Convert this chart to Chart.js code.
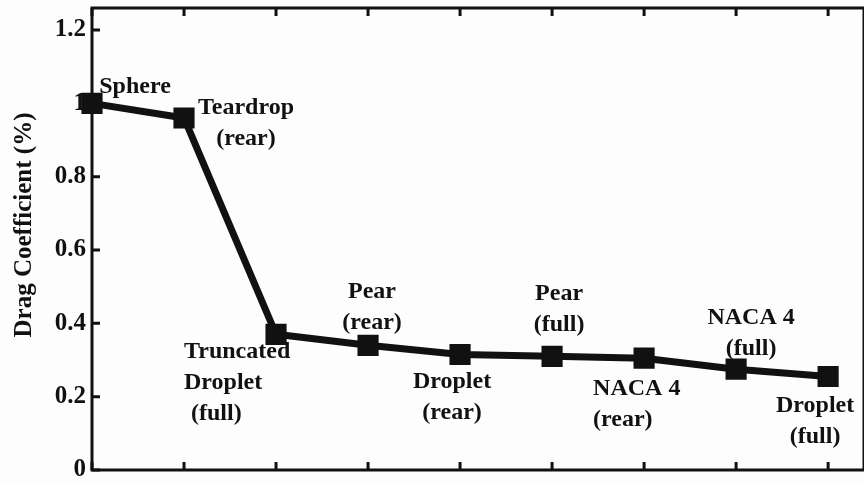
<!DOCTYPE html>
<html lang="en">
<head>
    <meta charset="UTF-8">
    <title>Drag Coefficient</title>
    <style>
        body { margin: 0; padding: 0; background: #fdfdfd; }
        .chart-container { position: relative; width: 864px; height: 484px; }
    </style>
    <script src="https://cdn.jsdelivr.net/npm/chart.js"></script>
</head>
<body>
    <div class="chart-container">
        <canvas id="dragChart"></canvas>
    </div>
    <script>
        // shapes, in plotted order
        const shapes = [
            ['Sphere'],
            ['Teardrop', '(rear)'],
            ['Truncated', 'Droplet', '(full)'],
            ['Pear', '(rear)'],
            ['Droplet', '(rear)'],
            ['Pear', '(full)'],
            ['NACA 4', '(rear)'],
            ['NACA 4', '(full)'],
            ['Droplet', '(full)']
        ];
        const dragCoef = [1.0, 0.96, 0.37, 0.34, 0.315, 0.31, 0.305, 0.275, 0.255];
        const yTicks = [0, 0.2, 0.4, 0.6, 0.8, 1, 1.2];
        const yTitle = 'Drag Coefficient (%)';

        // where each annotation sits relative to its marker (px)
        const labelOffsets = [
            { dx: 43, dy: -17 },
            { dx: 62, dy: -10 },
            { dx: -40, dy: 17, align: 'left', left: -92 },
            { dx: 4, dy: -54 },
            { dx: -8, dy: 27 },
            { dx: 7, dy: -63 },
            { dx: -4, dy: 31, align: 'left', left: -51 },
            { dx: 15, dy: -51 },
            { dx: -13, dy: 29 }
        ];

        const serif = '"Liberation Serif", "DejaVu Serif", serif';

        const annotate = {
            id: 'annotate',
            afterDatasetsDraw(chart) {
                const ctx = chart.ctx;
                const pts = chart.getDatasetMeta(0).data;
                ctx.save();
                ctx.fillStyle = '#111';
                ctx.font = 'bold 24px ' + serif;
                ctx.textBaseline = 'middle';
                pts.forEach((p, i) => {
                    const off = labelOffsets[i];
                    shapes[i].forEach((line, j) => {
                        const y = p.y + off.dy + j * 31;
                        if (off.align === 'left') {
                            ctx.textAlign = 'left';
                            ctx.fillText(line, p.x + off.left + (j === 2 ? 7 : 0), y);
                        } else {
                            ctx.textAlign = 'center';
                            ctx.fillText(line, p.x + off.dx, y);
                        }
                    });
                });
                // rotated axis title
                ctx.translate(25, 225);
                ctx.rotate(-Math.PI / 2);
                ctx.textAlign = 'center';
                ctx.font = 'bold 25px ' + serif;
                ctx.fillText(yTitle, 0, 0);
                ctx.restore();
            }
        };

        // frame with inward ticks
        const frame = {
            id: 'frame',
            beforeDatasetsDraw(chart) {
                const { ctx, chartArea: a, scales } = chart;
                ctx.save();
                ctx.strokeStyle = '#111';
                ctx.lineWidth = 3;
                ctx.strokeRect(a.left, a.top, a.right - a.left, a.bottom - a.top);
                ctx.beginPath();
                shapes.forEach((s, i) => {
                    const x = scales.x.getPixelForValue(i);
                    ctx.moveTo(x, a.bottom); ctx.lineTo(x, a.bottom - 8);
                    ctx.moveTo(x, a.top); ctx.lineTo(x, a.top + 8);
                });
                yTicks.forEach(v => {
                    const y = scales.y.getPixelForValue(v);
                    ctx.moveTo(a.left, y); ctx.lineTo(a.left + 8, y);
                });
                ctx.stroke();
                ctx.restore();
            }
        };

        new Chart(document.getElementById('dragChart'), {
            type: 'line',
            data: {
                datasets: [{
                    data: dragCoef.map((v, i) => ({ x: i, y: v })),
                    borderColor: '#111',
                    backgroundColor: '#111',
                    borderWidth: 7,
                    pointStyle: 'rect',
                    pointRadius: 10,
                    pointHoverRadius: 10,
                    tension: 0,
                    clip: false
                }]
            },
            options: {
                responsive: true,
                maintainAspectRatio: false,
                animation: false,
                layout: { autoPadding: false, padding: { top: 8, right: 0, bottom: 14, left: 0 } },
                plugins: { legend: { display: false }, tooltip: { enabled: false } },
                scales: {
                    x: {
                        type: 'linear',
                        min: 0,
                        max: 8.39,
                        display: false
                    },
                    y: {
                        min: 0,
                        max: 1.26,
                        afterBuildTicks(scale) {
                            scale.ticks = yTicks.map(v => ({ value: v }));
                        },
                        afterFit(scale) {
                            scale.width = 92;
                            scale.paddingTop = 0;
                            scale.paddingBottom = 0;
                        },
                        grid: { display: false, drawTicks: false },
                        border: { display: false },
                        ticks: {
                            color: '#111',
                            padding: 6,
                            callback: v => String(v),
                            font: { family: serif, size: 25, weight: 'bold' }
                        }
                    }
                }
            },
            plugins: [frame, annotate]
        });
    </script>
</body>
</html>
